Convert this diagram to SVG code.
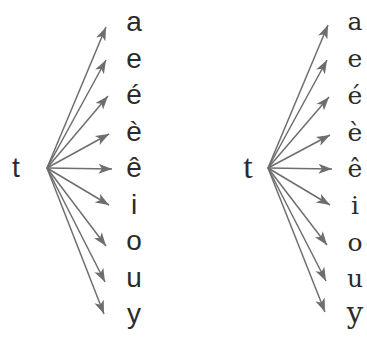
<svg xmlns="http://www.w3.org/2000/svg" width="367" height="350" viewBox="0 0 367 350">
<style>
.c line{stroke:#6e6e6e;stroke-width:1.5;fill:none;marker-end:url(#ah)}
.s{font-family:"Liberation Sans",Arial,sans-serif;font-size:28px;fill:#2b2b2b;text-anchor:middle}
.k{font-family:"DejaVu Serif","Liberation Serif",serif;font-size:25px;fill:#2b2b2b;text-anchor:middle}
.kt{font-family:"Liberation Serif","DejaVu Serif",serif;font-size:34px;fill:#2b2b2b;text-anchor:middle}
</style>
<defs>
<marker id="ah" markerUnits="userSpaceOnUse" markerWidth="16" markerHeight="12" refX="13.5" refY="6" orient="auto" viewBox="0 0 16 12">
<path d="M0,1 L13.5,6 L0,11 L3.5,6 Z" fill="#6e6e6e"/>
</marker>
</defs>
<g id="connectors" class="c">
<line x1="47" y1="168" x2="106" y2="27"/>
<line x1="47" y1="168" x2="106" y2="60"/>
<line x1="47" y1="168" x2="108" y2="96"/>
<line x1="47" y1="168" x2="109" y2="134"/>
<line x1="47" y1="168" x2="112" y2="169"/>
<line x1="47" y1="168" x2="109" y2="205"/>
<line x1="47" y1="168" x2="106" y2="246"/>
<line x1="47" y1="168" x2="105" y2="282"/>
<line x1="47" y1="168" x2="104" y2="314"/>
<line x1="268" y1="168" x2="328" y2="25"/>
<line x1="268" y1="168" x2="327" y2="60"/>
<line x1="268" y1="168" x2="329" y2="97"/>
<line x1="268" y1="168" x2="330" y2="135"/>
<line x1="268" y1="168" x2="332" y2="169"/>
<line x1="268" y1="168" x2="330" y2="205"/>
<line x1="268" y1="168" x2="327" y2="245"/>
<line x1="268" y1="168" x2="326" y2="281"/>
<line x1="268" y1="168" x2="325" y2="312"/>
</g>
<g id="t-print"><text class="s" x="16" y="177">t</text></g>
<g id="print-vowels">
<text class="s" x="134" y="31">a</text>
<text class="s" x="134" y="67.5">e</text>
<text class="s" x="134" y="104">é</text>
<text class="s" x="134" y="140.5">è</text>
<text class="s" x="134" y="177">ê</text>
<text class="s" x="134" y="213.5">i</text>
<text class="s" x="134" y="250">o</text>
<text class="s" x="134" y="286.5">u</text>
<text class="s" x="134" y="323">y</text>
</g>
<g id="t-cursive"><text class="kt" x="248" y="178">t</text></g>
<g id="cursive-vowels">
<text class="k" x="355" y="30">a</text>
<text class="k" x="355" y="67">e</text>
<text class="k" x="355" y="104">é</text>
<text class="k" x="355" y="141">è</text>
<text class="k" x="355" y="177">ê</text>
<text class="k" x="355" y="214">i</text>
<text class="k" x="355" y="251">o</text>
<text class="k" x="355" y="287">u</text>
<text class="k" x="355" y="323" style="font-size:29px">y</text>
</g>
</svg>
